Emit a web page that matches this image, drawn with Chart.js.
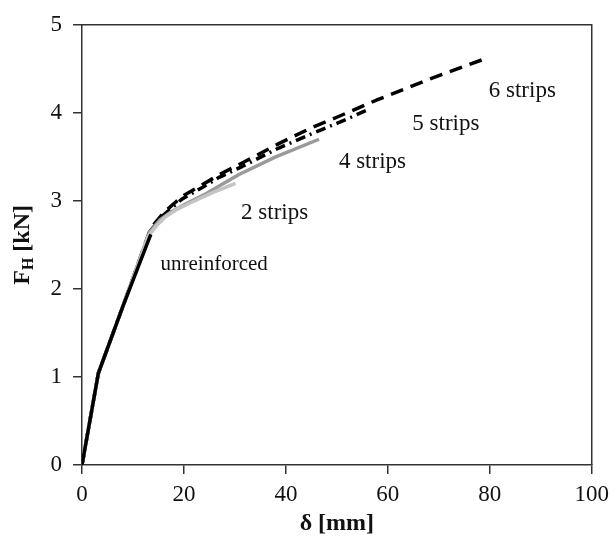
<!DOCTYPE html>
<html>
<head>
<meta charset="utf-8">
<script src="https://cdn.jsdelivr.net/npm/chart.js@4/dist/chart.umd.min.js"></script>
<style>
  html, body { margin: 0; padding: 0; background: #fff; }
  #wrap { width: 616px; height: 538px; }
</style>
</head>
<body>
<div id="wrap"><canvas id="chart"></canvas></div>
<script>
// displacement δ [mm] and horizontal force F_H [kN]
const deltaUnreinforced = [0, 3.2, 8, 13.5];
const forceUnreinforced = [0, 1.04, 1.8, 2.62];

const delta2 = [0, 3.2, 8, 13, 14.8, 16.4, 18.5, 21, 25.5, 30.1];
const force2 = [0, 1.04, 1.8, 2.6, 2.73, 2.82, 2.9, 2.97, 3.09, 3.2];

const delta4 = [0, 3.2, 8, 13.2, 15.2, 17.6, 20.5, 24.3, 30.8, 38, 46.5];
const force4 = [0, 1.04, 1.8, 2.64, 2.78, 2.88, 2.97, 3.08, 3.3, 3.5, 3.7];

const delta5 = [0, 3.2, 8, 13.4, 16, 19.6, 23.5, 27, 31.4, 38.6, 45, 50, 55.9];
const force5 = [0, 1.04, 1.8, 2.66, 2.84, 3.02, 3.15, 3.27, 3.39, 3.6, 3.76, 3.88, 4.03];

const delta6 = [0, 3.2, 8, 13.5, 16.1, 19.6, 23.5, 27, 31.4, 38.6, 45, 50, 58, 68, 78.4];
const force6 = [0, 1.04, 1.8, 2.69, 2.87, 3.05, 3.18, 3.3, 3.43, 3.65, 3.83, 3.95, 4.15, 4.38, 4.6];

const xTicks = [0, 20, 40, 60, 80, 100];
const yTicks = [0, 1, 2, 3, 4, 5];

const curveLabels = ['unreinforced', '2 strips', '4 strips', '5 strips', '6 strips'];
// where each curve's text label sits, in data units (left edge, baseline)
const labelAnchorX = [15.4, 31.2, 50.4, 64.8, 79.8];
const labelAnchorY = [2.22, 2.79, 3.37, 3.8, 4.18];

const SERIF = "'Liberation Serif', 'DejaVu Serif', serif";

function toPoints(xs, ys) {
  return xs.map((x, i) => ({ x: x, y: ys[i] }));
}

const curveLabelsPlugin = {
  id: 'curveLabels',
  afterDraw(chart) {
    const { ctx, scales, chartArea } = chart;
    ctx.save();
    ctx.fillStyle = '#111';
    ctx.textBaseline = 'alphabetic';
    ctx.textAlign = 'left';
    curveLabels.forEach((text, i) => {
      ctx.font = (i === 0 ? '21px ' : '23px ') + SERIF;
      ctx.fillText(text, scales.x.getPixelForValue(labelAnchorX[i]), scales.y.getPixelForValue(labelAnchorY[i]));
    });

    // top and right frame
    ctx.strokeStyle = '#333';
    ctx.lineWidth = 1.5;
    ctx.beginPath();
    ctx.moveTo(chartArea.left, chartArea.top);
    ctx.lineTo(chartArea.right, chartArea.top);
    ctx.lineTo(chartArea.right, chartArea.bottom);
    ctx.stroke();

    // y title with subscript
    const cy = (chartArea.top + chartArea.bottom) / 2;
    ctx.translate(23, cy);
    ctx.rotate(-Math.PI / 2);
    ctx.fillStyle = '#111';
    const mainFont = 'bold 24px ' + SERIF;
    const subFont = 'bold 16px ' + SERIF;
    ctx.font = mainFont;
    const wF = ctx.measureText('F').width;
    const wRest = ctx.measureText(' [kN]').width;
    ctx.font = subFont;
    const wH = ctx.measureText('H').width;
    const x0 = -(wF + wH + wRest) / 2;
    ctx.textBaseline = 'middle';
    ctx.font = mainFont;
    ctx.fillText('F', x0, 0);
    ctx.font = subFont;
    ctx.fillText('H', x0 + wF, 6);
    ctx.font = mainFont;
    ctx.fillText(' [kN]', x0 + wF + wH, 0);
    ctx.restore();
  }
};

const common = {
  fill: false,
  pointRadius: 0,
  borderWidth: 3.5,
  tension: 0,
  borderJoinStyle: 'round'
};

new Chart(document.getElementById('chart'), {
  type: 'line',
  data: {
    datasets: [
      Object.assign({ label: curveLabels[0], data: toPoints(deltaUnreinforced, forceUnreinforced), borderColor: '#000' }, common),
      Object.assign({ label: curveLabels[1], data: toPoints(delta2, force2), borderColor: '#c4c4c4' }, common),
      Object.assign({ label: curveLabels[2], data: toPoints(delta4, force4), borderColor: '#9a9a9a' }, common),
      Object.assign({ label: curveLabels[3], data: toPoints(delta5, force5), borderColor: '#000', borderDash: [10, 5, 2, 5] }, common),
      Object.assign({ label: curveLabels[4], data: toPoints(delta6, force6), borderColor: '#000', borderDash: [13, 8] }, common)
    ]
  },
  options: {
    responsive: true,
    maintainAspectRatio: false,
    animation: false,
    layout: { padding: { top: 22, right: 22, left: 0, bottom: 0 } },
    plugins: {
      legend: { display: false },
      tooltip: { enabled: false }
    },
    scales: {
      x: {
        type: 'linear',
        min: 0,
        max: 100,
        afterBuildTicks: (s) => { s.ticks = xTicks.map((v) => ({ value: v })); },
        afterFit: (s) => { s.height = 73; },
        grid: { drawOnChartArea: false, drawTicks: true, tickLength: 9, color: '#333', lineWidth: 1.5 },
        border: { color: '#333', width: 1.5 },
        ticks: { color: '#111', font: { family: SERIF, size: 23 }, padding: 7, maxRotation: 0 },
        title: { display: true, text: 'δ [mm]', color: '#111', font: { family: SERIF, size: 24, weight: 'bold' }, padding: { top: 0, bottom: 0 } }
      },
      y: {
        type: 'linear',
        min: 0,
        max: 5,
        afterBuildTicks: (s) => { s.ticks = yTicks.map((v) => ({ value: v })); },
        afterFit: (s) => { s.width = 82; },
        grid: { drawOnChartArea: false, drawTicks: true, tickLength: 9, color: '#333', lineWidth: 1.5 },
        border: { color: '#333', width: 1.5 },
        ticks: { color: '#111', font: { family: SERIF, size: 23 }, padding: 11 }
      }
    }
  },
  plugins: [curveLabelsPlugin]
});
</script>
</body>
</html>
